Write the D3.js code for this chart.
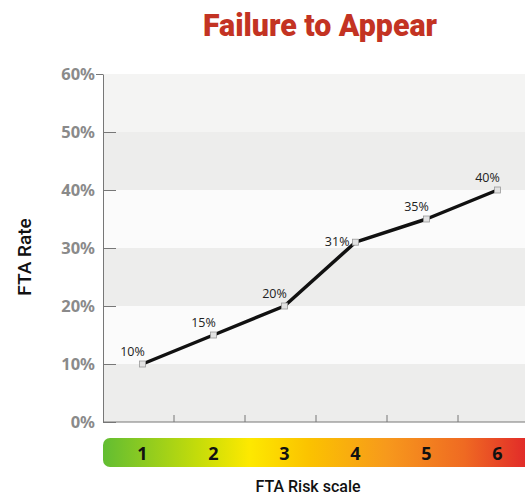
<!doctype html>
<html>
<head>
<meta charset="UTF-8">
<script src="https://cdnjs.cloudflare.com/ajax/libs/d3/7.8.5/d3.min.js"></script>
<style>
  body { margin: 0; background: #fff; }
</style>
</head>
<body>
<svg id="chart" width="525" height="499"></svg>
<script>
// data
var riskLevels = [1, 2, 3, 4, 5, 6];
var ftaRates = [10, 15, 20, 31, 35, 40];
var yTicks = [0, 10, 20, 30, 40, 50, 60];

var svg = d3.select("#chart");

var x = d3.scaleBand().domain(riskLevels).range([107, 533]);
var y = d3.scaleLinear().domain([0, 60]).range([422, 74]);

// title
svg.append("text")
  .attr("x", 320).attr("y", 36)
  .attr("text-anchor", "middle")
  .attr("textLength", 234).attr("lengthAdjust", "spacingAndGlyphs")
  .style("font-family", "Roboto").style("font-weight", "900")
  .style("font-size", "32px").style("fill", "#c33323")
  .text("Failure to Appear");

// alternating bands
var bands = svg.append("g");
yTicks.slice(0, -1).forEach(function(t, i) {
  var fill = i === 5 ? "#f4f4f3" : (i % 2 === 0 ? "#ededec" : "#fbfbfb");
  bands.append("rect")
    .attr("x", 103).attr("width", 525 - 103)
    .attr("y", y(t + 10)).attr("height", y(t) - y(t + 10))
    .attr("fill", fill);
});

// y axis
var yAxis = svg.append("g").attr("transform", "translate(103,0)")
  .call(d3.axisLeft(y).tickValues(yTicks).tickSizeOuter(0)
    .tickSizeInner(-13).tickPadding(8).tickFormat(function(d) { return d + "%"; }));
yAxis.select(".domain").attr("stroke", "#777");
yAxis.selectAll(".tick line").attr("stroke", "#777");
yAxis.selectAll(".tick").filter(function(d) { return d === 60; })
  .select("line").attr("x2", -7);
yAxis.selectAll(".tick text")
  .attr("x", -8)
  .style("font-family", "Noto Sans").style("font-weight", "bold")
  .style("font-size", "16.5px").style("fill", "#8a8a8a");

// x axis (ticks between categories)
var xBounds = riskLevels.slice(1).map(function(d) { return x(d); });
var xAxis = svg.append("g");
xAxis.append("line")
  .attr("x1", 103).attr("x2", 525).attr("y1", 422).attr("y2", 422)
  .attr("stroke", "#777");
xAxis.selectAll("line.tk").data(xBounds).enter().append("line")
  .attr("class", "tk")
  .attr("x1", function(d) { return d - 4; }).attr("x2", function(d) { return d - 4; })
  .attr("y1", 422).attr("y2", 415)
  .attr("stroke", "#777");

// y label
svg.append("text")
  .attr("transform", "translate(31,257) rotate(-90)")
  .attr("text-anchor", "middle")
  .style("font-family", "Roboto").style("font-weight", 500)
  .style("font-size", "19px").style("fill", "#111")
  .text("FTA Rate");

// line
var line = d3.line()
  .x(function(d, i) { return x(riskLevels[i]) + x.bandwidth() / 2; })
  .y(function(d) { return y(d); });

svg.append("path")
  .datum(ftaRates)
  .attr("d", line)
  .attr("fill", "none")
  .attr("stroke", "#111")
  .attr("stroke-width", 3.5)
  .attr("stroke-linejoin", "round");

svg.selectAll("rect.pt").data(ftaRates).enter().append("rect")
  .attr("class", "pt")
  .attr("x", function(d, i) { return x(riskLevels[i]) + x.bandwidth() / 2 - 3; })
  .attr("y", function(d) { return y(d) - 3; })
  .attr("width", 6).attr("height", 6)
  .attr("fill", "#e2e2e2").attr("stroke", "#999").attr("stroke-width", 0.8);

// point labels: left of point when the segment into it is steep
svg.selectAll("text.lbl").data(ftaRates).enter().append("text")
  .attr("class", "lbl")
  .attr("x", function(d, i) {
    var cx = x(riskLevels[i]) + x.bandwidth() / 2;
    var steep = i > 0 && d - ftaRates[i - 1] > 8;
    return steep ? cx - 6 : cx - 10;
  })
  .attr("y", function(d, i) {
    var steep = i > 0 && d - ftaRates[i - 1] > 8;
    return steep ? y(d) + 4 : y(d) - 8;
  })
  .attr("text-anchor", function(d, i) {
    return i > 0 && d - ftaRates[i - 1] > 8 ? "end" : "middle";
  })
  .style("font-family", "Open Sans").style("font-size", "12.5px").style("fill", "#222")
  .text(function(d) { return d + "%"; });

// risk scale bar
var grad = svg.append("defs").append("linearGradient")
  .attr("id", "risk").attr("x1", "0%").attr("x2", "100%");
[["0%", "#62bd32"], ["22%", "#c4dc0a"], ["34%", "#fde900"], ["48%", "#fbc200"],
 ["66%", "#f7991c"], ["84%", "#ef6a22"], ["100%", "#e0242a"]].forEach(function(s) {
  grad.append("stop").attr("offset", s[0]).attr("stop-color", s[1]);
});

svg.append("rect")
  .attr("x", 103).attr("y", 438).attr("width", 430).attr("height", 29)
  .attr("rx", 7).attr("fill", "url(#risk)");

svg.selectAll("text.risk").data(riskLevels).enter().append("text")
  .attr("class", "risk")
  .attr("x", function(d) { return x(d) + x.bandwidth() / 2; })
  .attr("y", 460)
  .attr("text-anchor", "middle")
  .style("font-family", "Noto Sans").style("font-weight", "bold")
  .style("font-size", "18px").style("fill", "#111")
  .text(function(d) { return d; });

svg.append("text")
  .attr("x", 308).attr("y", 492)
  .attr("text-anchor", "middle")
  .style("font-family", "Roboto").style("font-weight", 500)
  .style("font-size", "16px").style("fill", "#111")
  .text("FTA Risk scale");
</script>
</body>
</html>
